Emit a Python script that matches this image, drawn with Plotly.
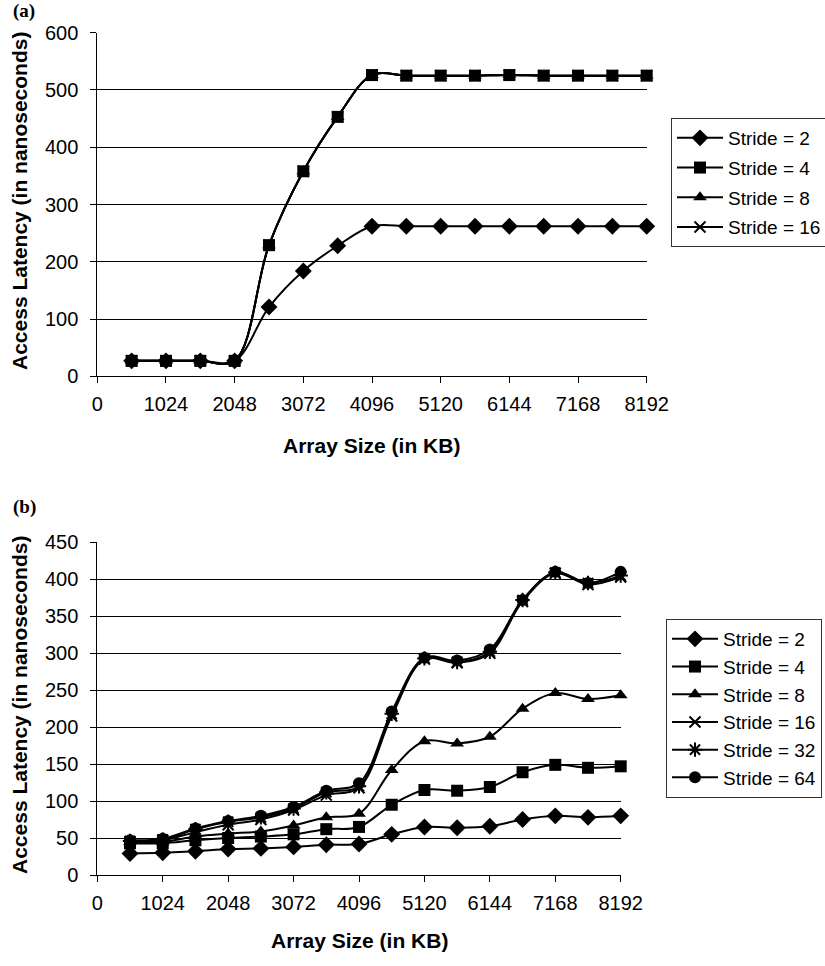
import plotly.graph_objects as go

# ---------------- data ----------------
sizes = [512 * i for i in range(1, 17)]
x_ticks = [0, 1024, 2048, 3072, 4096, 5120, 6144, 7168, 8192]

# chart (a)
a_stride2 = [27, 27, 27, 27, 121, 184, 228, 262, 262, 262, 262, 262, 262, 262, 262, 262]
a_stride4 = [27, 27, 27, 27, 229, 358, 453, 526, 525, 525, 525, 526, 525, 525, 525, 525]
a_stride8 = [27, 27, 27, 27, 229, 358, 453, 526, 525, 525, 525, 526, 525, 525, 525, 525]
a_stride16 = [27, 27, 27, 27, 229, 358, 453, 526, 525, 525, 525, 526, 525, 525, 525, 525]

# chart (b)
b_stride2 = [29, 30, 32, 35, 36, 38, 41, 42, 55, 65, 64, 66, 75, 80, 78, 80]
b_stride4 = [43, 43, 47, 50, 52, 55, 62, 65, 95, 115, 114, 119, 139, 149, 145, 147]
b_stride8 = [45, 45, 52, 56, 59, 67, 78, 83, 142, 181, 178, 187, 225, 246, 238, 243]
b_stride16 = [45, 47, 58, 68, 75, 88, 108, 118, 215, 292, 287, 300, 370, 408, 393, 403]
b_stride32 = [46, 48, 62, 72, 78, 90, 112, 120, 218, 293, 288, 302, 372, 409, 395, 405]
b_stride64 = [47, 49, 63, 73, 80, 92, 114, 124, 221, 294, 290, 305, 372, 410, 395, 410]

names = ["Stride = 2", "Stride = 4", "Stride = 8", "Stride = 16", "Stride = 32", "Stride = 64"]
symbols = ["diamond", "square", "triangle-up", "x-thin-open", "asterisk-open", "circle"]
msizes = [13, 12, 12, 11, 12, 12]

W, H = 825, 966
FONT = "Liberation Sans, Arial, sans-serif"


def px(x):
    return x / W


def py(y):
    return 1 - y / H


fig = go.Figure()


def add_series(xv, yv, idx, xa, ya, legend, group):
    sym = symbols[idx]
    line_only = sym.endswith("-open")
    fig.add_trace(go.Scatter(
        x=xv, y=yv, name=names[idx], mode="lines+markers",
        xaxis=xa, yaxis=ya, legend=legend, legendgroup=group,
        line=dict(color="black", width=2, shape="spline", smoothing=1),
        marker=dict(symbol=sym, size=msizes[idx], color="black",
                    line=dict(color="black", width=2 if line_only else 0)),
        cliponaxis=False,
    ))


a_series = [a_stride2, a_stride4, a_stride8, a_stride16]
for i, ys in enumerate(a_series):
    add_series(sizes, ys, i, "x", "y", "legend", "a%d" % i)

b_series = [b_stride2, b_stride4, b_stride8, b_stride16, b_stride32, b_stride64]
for i, ys in enumerate(b_series):
    add_series(sizes, ys, i, "x2", "y2", "legend2", "b%d" % i)

tickfont = dict(family=FONT, size=20, color="black")
xcommon = dict(range=[0, 8192], tickvals=x_ticks, showline=True, linecolor="black", linewidth=1,
               ticks="outside", ticklen=6, tickcolor="black", showgrid=False, zeroline=False,
               tickfont=tickfont, fixedrange=True, ticklabelstandoff=4, automargin=False)
ycommon = dict(showline=True, linecolor="black", linewidth=1, ticks="outside", ticklen=6,
               tickcolor="black", showgrid=True, gridcolor="black", gridwidth=1, zeroline=False,
               tickfont=tickfont, fixedrange=True, ticklabelstandoff=8, automargin=False)

legend_common = dict(font=dict(family=FONT, size=19, color="black"), bgcolor="white",
                     bordercolor="#333", borderwidth=1, xanchor="left", yanchor="top",
                     traceorder="grouped", itemwidth=46)

fig.update_layout(
    width=W, height=H, margin=dict(l=0, r=0, t=0, b=0, autoexpand=False),
    paper_bgcolor="white", plot_bgcolor="white",
    xaxis=dict(domain=[px(97.3), px(646.7)], anchor="y", **xcommon),
    yaxis=dict(domain=[py(376.3), py(32.7)], anchor="x", range=[0, 600], dtick=100, **ycommon),
    xaxis2=dict(domain=[px(97.3), px(620.7)], anchor="y2", **xcommon),
    yaxis2=dict(domain=[py(875), py(542.3)], anchor="x2", range=[0, 450], dtick=50, **ycommon),
    legend=dict(x=px(671), y=py(118), tracegroupgap=2, **legend_common),
    legend2=dict(x=px(666), y=py(619), tracegroupgap=0, **legend_common),
    showlegend=True,
)

title_font = dict(family=FONT, size=21, color="black")
panel_font = dict(family="Liberation Serif, Times New Roman, serif", size=19, color="black")
annotations = [
    dict(text="<b>Array Size (in KB)</b>", x=px(371), y=py(445), font=title_font),
    dict(text="<b>Access Latency (in nanoseconds)</b>", x=px(19), y=py(201), textangle=-90, font=title_font),
    dict(text="<b>Array Size (in KB)</b>", x=px(359), y=py(940), font=title_font),
    dict(text="<b>Access Latency (in nanoseconds)</b>", x=px(19), y=py(705), textangle=-90, font=title_font),
    dict(text="<b>(a)</b>", x=px(24), y=py(11), font=panel_font),
    dict(text="<b>(b)</b>", x=px(24), y=py(507), font=panel_font),
]
for a in annotations:
    fig.add_annotation(xref="paper", yref="paper", showarrow=False, xanchor="center",
                       yanchor="middle", **a)

fig.write_html("out.html")
